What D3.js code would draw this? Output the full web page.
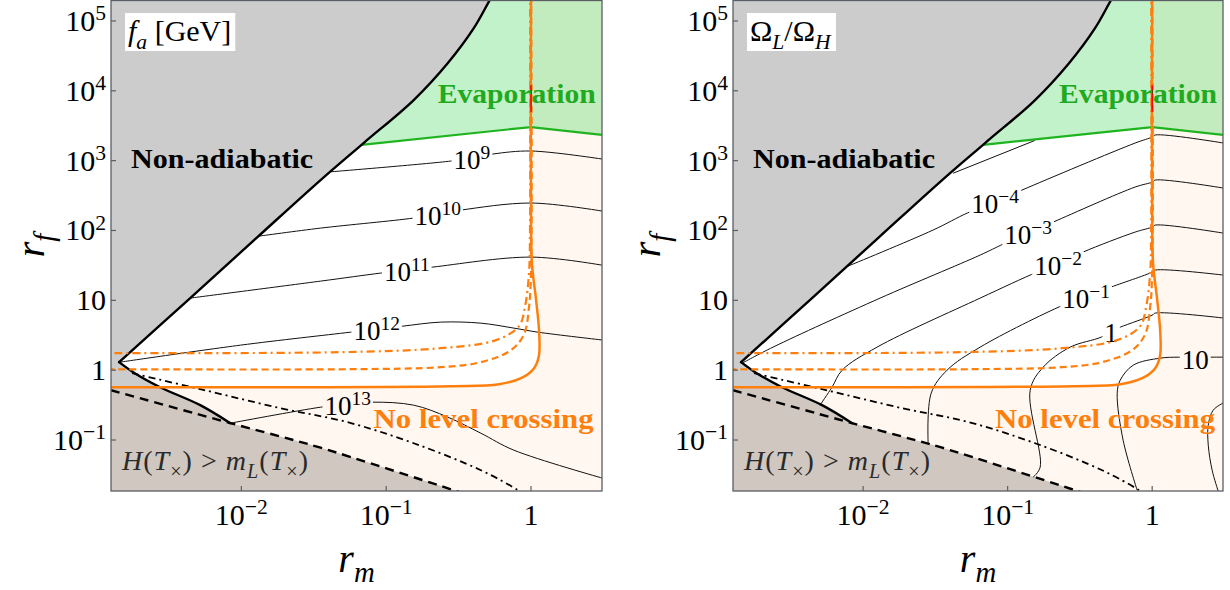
<!DOCTYPE html>
<html><head><meta charset="utf-8">
<script src="https://cdn.jsdelivr.net/npm/d3@7"></script>
<style>
body{margin:0;background:#fff}
svg{display:block}
text{font-family:"Liberation Serif","DejaVu Serif",serif;white-space:pre}
</style>
</head><body>
<svg id="c" width="1230" height="590" font-family="Liberation Serif, DejaVu Serif, serif"></svg>
<script>
// ---------- axis data (log10 units) ----------
const X_LOG_DOMAIN = [-2.9, 0.49];     // log10 r_m
const Y_LOG_DOMAIN = [-1.73, 5.30];    // log10 r_f
const xTicks = [0.01, 0.1, 1];
const xTickLabels = [["10","\u22122"],["10","\u22121"],["1",""]];
const yTicks = [1e5, 1e4, 1e3, 1e2, 10, 1, 0.1];
const yTickLabels = [["10","5"],["10","4"],["10","3"],["10","2"],["10",""],["1",""],["10","\u22121"]];

// ---------- region boundaries, [log10 rm, log10 rf] ----------
const thickUpper = [[-2.844,0.115],[-2.353,1.032],[-1.889,1.905],[-1.453,2.722],[-1.156,3.252],[-0.810,3.868],[-0.574,4.398],[-0.394,4.900],[-0.284,5.301],[-0.24,5.45]];
const thickLower = [[-2.844,0.115],[-2.747,-0.029],[-2.561,-0.244],[-2.284,-0.501],[-2.076,-0.759]];
const dashedLeft = [[-3.0,-0.23],[-2.9,-0.287],[-2.076,-0.759]];
const dashedRight = [[-2.076,-0.759],[-1.73,-0.95],[-1.453,-1.11],[-0.533,-1.719],[-0.3,-1.88]];
const dashDotBlack = [[-2.754,-0.043],[-2.284,-0.272],[-1.730,-0.544],[-1.266,-0.745],[-0.810,-1.046],[-0.346,-1.433],[-0.090,-1.719],[0.0,-1.85]];
const evapLine = [[-1.17,3.225],[0,3.481],[0.6,3.344]];
const orangeSolid = [[-3.0,-0.244],[-2.9,-0.244],[-0.554,-0.229],[-0.221,-0.201],[-0.069,-0.115],[0.021,0.029],[0.055,0.215],[0.055,0.573],[0.035,1.003],[0.007,1.504],[0,2.006],[0,5.6]];
const orangeDashed = [[-3.0,0.014],[-1.246,0.014],[-0.623,0.043],[-0.346,0.115],[-0.138,0.287],[-0.048,0.516],[-0.014,0.903],[0,1.390],[0,5.6]];
const orangeDashDot = [[-3.0,0.244],[-1.315,0.258],[-0.623,0.315],[-0.242,0.430],[-0.083,0.63],[-0.042,0.903],[-0.014,1.390],[-0.007,2.0],[-0.007,5.6]];
const redMark = [[0,3.70],[0,4.08]];

// ---------- contours: f_a [GeV] ----------
const faContours = [
 {label:["10","9"],  at:[-0.408,3.04],  pts:[[-1.384,2.84],[-0.554,2.994],[-0.408,3.04],[-0.263,3.095],[0,3.138],[0.5,3.02]]},
 {label:["10","10"], at:[-0.644,2.235], pts:[[-1.875,1.92],[-1.453,2.034],[-0.810,2.178],[-0.644,2.235],[-0.484,2.292],[0,2.393],[0.5,2.275]]},
 {label:["10","11"], at:[-0.858,1.433], pts:[[-2.353,1.032],[-1.453,1.275],[-1.038,1.390],[-0.858,1.433],[-0.678,1.476],[0,1.619],[0.5,1.50]]},
 {label:["10","12"], at:[-1.066,0.587], pts:[[-2.837,0.115],[-2.007,0.358],[-1.246,0.544],[-1.066,0.587],[-0.886,0.630],[-0.623,0.688],[-0.346,0.673],[-0.118,0.602],[0.048,0.544],[0.5,0.43]]},
 {label:["10","13"], at:[-1.266,-0.487],pts:[[-2.076,-0.759],[-1.453,-0.530],[-1.266,-0.487],[-1.093,-0.458],[-0.810,-0.501],[-0.574,-0.673],[-0.346,-0.903],[-0.118,-1.146],[0.5,-1.55]]}
];
// ---------- contours: Omega_L / Omega_H ----------
const omContours = [
 {label:null, pts:[[-1.377,2.82],[-0.81,3.29]]},
 {label:["10","\u22124"], at:[-1.087,2.407], pts:[[-2.104,1.49],[-1.516,2.006],[-1.280,2.249],[-1.087,2.407],[-0.900,2.579],[-0.118,3.252],[0,3.338],[0.021,3.367],[0.5,3.25]]},
 {label:["10","\u22123"], at:[-0.858,1.963], pts:[[-2.837,0.100],[-2.623,0.330],[-1.882,1.032],[-1.190,1.648],[-1.031,1.805],[-0.858,1.963],[-0.685,2.120],[-0.118,2.622],[0,2.693],[0.021,2.722],[0.5,2.605]]},
 {label:["10","\u22122"], at:[-0.651,1.519], pts:[[-2.298,-0.501],[-2.215,-0.244],[-2.145,0.0],[-1.903,0.330],[-1.190,1.032],[-0.796,1.404],[-0.651,1.519],[-0.478,1.691],[-0.118,1.977],[0,2.049],[0.021,2.077],[0.5,1.96]]},
 {label:["10","\u22121"], at:[-0.457,1.05], pts:[[-1.550,-1.046],[-1.529,-0.330],[-1.419,0.0],[-1.190,0.330],[-0.616,0.931],[-0.457,1.05],[-0.304,1.175],[0,1.404],[0.021,1.433],[0.5,1.36]]},
 {label:["1",""], at:[-0.284,0.56], pts:[[-0.824,-1.533],[-0.775,-1.390],[-0.844,-0.287],[-0.754,0.043],[-0.567,0.330],[-0.353,0.473],[-0.284,0.56],[-0.221,0.616],[0,0.788],[0.021,0.817],[0.5,0.745]]},
 {label:["10",""], at:[0.298,0.18], pts:[[-0.104,-1.719],[-0.201,-1.003],[-0.242,-0.330],[-0.221,-0.143],[-0.131,0.072],[0.055,0.172],[0.18,0.186],[0.298,0.18],[0.40,0.186],[0.5,0.186]]},
 {label:null, pts:[[0.5,-0.46],[0.422,-0.573],[0.388,-0.788],[0.388,-1.074],[0.415,-1.433],[0.457,-1.734]]}
];

// ---------- annotation anchors [log10 rm, log10 rf] ----------
const annNonAd = [-2.761, 2.894];
const annEvap = [-0.644, 3.825];
const annNoLevel = [-1.087, -0.831];
const annH = [-2.824, -1.433];

const panels = [
  {x0:111, x1:602, contours:faContours, ylabX:44,
   title:[{t:"f",it:true},{t:"a",it:true,sub:true},{t:" [GeV]"}]},
  {x0:733, x1:1223, contours:omContours, ylabX:660,
   title:[{t:"\u03A9"},{t:"L",it:true,sub:true},{t:"/\u03A9"},{t:"H",it:true,sub:true}]}
];

const FONT = "Liberation Serif, DejaVu Serif, serif";
const Y0 = 0, Y1 = 491;
const svg = d3.select("#c");
const defs = svg.append("defs");

function rich(g, x, y, size, parts, attrs) {
  const t = g.append("text").attr("x", x).attr("y", y).attr("font-size", size).attr("font-family", FONT);
  if (attrs) for (const k in attrs) t.attr(k, attrs[k]);
  let shift = 0;
  parts.forEach(p => {
    if (!p.t) return;
    const target = p.sub ? size*0.26 : p.sup ? -size*0.36 : 0;
    const s = t.append("tspan").text(p.t).attr("dy", target - shift);
    shift = target;
    if (p.sub || p.sup) s.attr("font-size", size*0.72);
    if (p.it) s.attr("font-style", "italic");
  });
  return t;
}

panels.forEach((P, pi) => {
  const x = d3.scaleLog().domain(X_LOG_DOMAIN.map(v => 10**v)).range([P.x0, P.x1]);
  const y = d3.scaleLog().domain(Y_LOG_DOMAIN.map(v => 10**v)).range([Y1, Y0]);
  const pt = d => [x(10**d[0]), y(10**d[1])];
  const cr = d3.line().curve(d3.curveCatmullRom.alpha(0.5));
  const lin = d3.line();
  const pathC = pts => cr(pts.map(pt));
  const pathL = pts => lin(pts.map(pt));
  const sample = (d) => {
    const p = svg.append("path").attr("d", d).attr("visibility","hidden");
    const n = p.node(), L = n.getTotalLength(), out = [];
    for (let s = 0; s < L; s += 1.5) { const q = n.getPointAtLength(s); out.push([q.x, q.y]); }
    const q = n.getPointAtLength(L); out.push([q.x, q.y]);
    p.remove(); return out;
  };

  defs.append("clipPath").attr("id","clip"+pi).append("rect")
    .attr("x",P.x0).attr("y",Y0).attr("width",P.x1-P.x0).attr("height",Y1-Y0);
  const g = svg.append("g").attr("clip-path",`url(#clip${pi})`);
  g.append("rect").attr("x",P.x0).attr("y",Y0).attr("width",P.x1-P.x0).attr("height",Y1-Y0).attr("fill","#fff");

  // gray regions
  const up = sample(pathC(thickUpper)), lo = sample(pathC(thickLower)), dr = sample(pathC(dashedRight));
  const upRev = up.slice().reverse();
  const grayP = [[P.x0-10, Y0-10], [upRev[0][0], Y0-10], ...upRev, ...lo, ...dr,
                 [dr[dr.length-1][0], Y1+10], [P.x0-10, Y1+10]];
  g.append("path").attr("d", lin(grayP)+"Z").attr("fill","#cccccc");

  // no level crossing (peach, outside solid orange contour)
  const os = sample(pathC(orangeSolid));
  const outer = `M${P.x0-10},${Y0-10}H${P.x1+10}V${Y1+10}H${P.x0-10}Z`;
  const inner = lin([...os, [P.x0-10, Y0-10]]) + "Z";
  g.append("path").attr("d", outer+inner).attr("fill-rule","evenodd").attr("fill","rgba(255,130,30,0.065)");

  // evaporation (green)
  const ev = sample(pathL(evapLine));
  const startY = ev[0][1];
  const upTop = upRev.filter(p => p[1] <= startY);
  const greenP = [...ev, [P.x1+10, ev[ev.length-1][1]], [P.x1+10, Y0-10], [upTop[0][0], Y0-10], ...upTop];
  g.append("path").attr("d", lin(greenP)+"Z").attr("fill","rgba(0,200,30,0.24)");

  // contours with label gaps
  const mask = defs.append("mask").attr("id","m"+pi).attr("maskUnits","userSpaceOnUse")
    .attr("x",0).attr("y",0).attr("width",1230).attr("height",590);
  mask.append("rect").attr("width",1230).attr("height",590).attr("fill","white");
  const cg = g.append("g").attr("mask",`url(#m${pi})`);
  const lg = g.append("g");
  P.contours.forEach(c => {
    cg.append("path").attr("d", pathC(c.pts)).attr("fill","none").attr("stroke","#111").attr("stroke-width",1);
    if (c.label) {
      const [lx, ly] = pt(c.at);
      const t = rich(lg, lx, ly+11, 27, [{t:c.label[0]},{t:c.label[1],sup:true}], {"text-anchor":"middle","fill":"#000"});
      const b = t.node().getBBox();
      mask.append("rect").attr("x",b.x-2).attr("y",b.y+3).attr("width",b.width+4).attr("height",b.height-6).attr("fill","black");
    }
  });

  // green boundary
  g.append("path").attr("d", pathL(evapLine)).attr("fill","none").attr("stroke","#1fb41f").attr("stroke-width",2.2);

  // black boundaries
  g.append("path").attr("d", pathC(dashDotBlack)).attr("fill","none").attr("stroke","#000").attr("stroke-width",1.8).attr("stroke-dasharray","7,4,2,4");
  g.append("path").attr("d", pathC(dashedLeft)+pathC(dashedRight).replace(/^M/,"L")).attr("fill","none").attr("stroke","#000").attr("stroke-width",2.4).attr("stroke-dasharray","9,6");
  [thickUpper, thickLower].forEach(a => g.append("path").attr("d", pathC(a)).attr("fill","none")
    .attr("stroke","#000").attr("stroke-width",2.4).attr("stroke-linecap","round"));

  // orange contours
  g.append("path").attr("d", pathC(orangeDashDot)).attr("fill","none").attr("stroke","#ff7f0e").attr("stroke-width",2.2).attr("stroke-dasharray","8,4,2,4");
  g.append("path").attr("d", pathC(orangeDashed)).attr("fill","none").attr("stroke","#ff7f0e").attr("stroke-width",2.2).attr("stroke-dasharray","7,4");
  g.append("path").attr("d", pathC(orangeSolid)).attr("fill","none").attr("stroke","#ff7f0e").attr("stroke-width",2.5);
  g.append("path").attr("d", pathL(redMark)).attr("fill","none").attr("stroke","#ff0000").attr("stroke-width",1.6);

  // annotations
  let p = pt(annNonAd);
  g.append("text").attr("x",p[0]).attr("y",p[1]).attr("font-family",FONT).attr("font-size",27).attr("font-weight","bold")
    .attr("textLength",182).attr("lengthAdjust","spacingAndGlyphs").text("Non-adiabatic");
  p = pt(annEvap);
  g.append("text").attr("x",p[0]).attr("y",p[1]).attr("font-family",FONT).attr("font-size",27).attr("font-weight","bold").attr("fill","#1faa1f")
    .attr("textLength",158).attr("lengthAdjust","spacingAndGlyphs").text("Evaporation");
  p = pt(annNoLevel);
  g.append("text").attr("x",p[0]).attr("y",p[1]).attr("font-family",FONT).attr("font-size",27).attr("font-weight","bold").attr("fill","#ff7f0e")
    .attr("textLength",220).attr("lengthAdjust","spacingAndGlyphs").text("No level crossing");
  p = pt(annH);
  rich(g, p[0], p[1], 28, [{t:"H",it:true},{t:"("},{t:"T",it:true},{t:"\u00D7",sub:true},{t:") > "},
    {t:"m",it:true},{t:"L",it:true,sub:true},{t:"("},{t:"T",it:true},{t:"\u00D7",sub:true},{t:")"}],
    {"fill":"#2a2a2a","textLength":186,"lengthAdjust":"spacing"});

  // title box
  const tt = rich(svg, P.x0+17, 41, 30, P.title, {"fill":"#000"});
  const tb = tt.node().getBBox();
  svg.insert("rect", () => tt.node()).attr("x", P.x0+14).attr("y", 13).attr("width", tb.width+7).attr("height", 38).attr("fill","#fff");

  // frame, ticks, labels
  svg.append("rect").attr("x",P.x0).attr("y",Y0+0.5).attr("width",P.x1-P.x0).attr("height",Y1-Y0-0.5)
    .attr("fill","none").attr("stroke","#5a5f66").attr("stroke-width",1.3);
  yTicks.forEach((t, i) => {
    svg.append("line").attr("x1",P.x0).attr("x2",P.x0+5).attr("y1",y(t)).attr("y2",y(t)).attr("stroke","#5a5f66").attr("stroke-width",1.2);
    rich(svg, P.x0-5, y(t)+10, 30, [{t:yTickLabels[i][0]},{t:yTickLabels[i][1],sup:true}], {"text-anchor":"end"});
  });
  xTicks.forEach((t, i) => {
    svg.append("line").attr("x1",x(t)).attr("x2",x(t)).attr("y1",Y1).attr("y2",Y1-5).attr("stroke","#5a5f66").attr("stroke-width",1.2);
    rich(svg, x(t), 525, 30, [{t:xTickLabels[i][0]},{t:xTickLabels[i][1],sup:true}], {"text-anchor":"middle"});
  });
  rich(svg, (P.x0+P.x1)/2, 572, 40, [{t:"r",it:true},{t:"m",it:true,sub:true}], {"text-anchor":"middle"});
  const yl = svg.append("g").attr("transform", `translate(${P.ylabX},${(Y0+Y1)/2}) rotate(-90)`);
  rich(yl, 0, 0, 40, [{t:"r",it:true},{t:"f",it:true,sub:true}], {"text-anchor":"middle"});
});
</script>
</body></html>
